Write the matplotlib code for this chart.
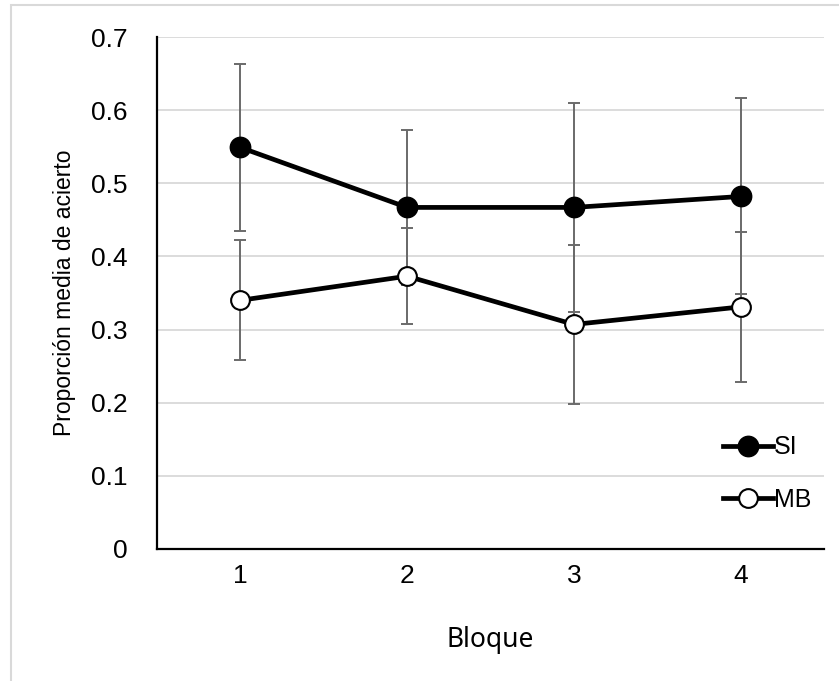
import matplotlib
matplotlib.use("Agg")
import matplotlib.pyplot as plt
from matplotlib.patches import Rectangle

bloques = ["1", "2", "3", "4"]
si_mean = [0.549, 0.467, 0.467, 0.482]
si_err = [0.114, 0.106, 0.143, 0.134]
mb_mean = [0.340, 0.373, 0.307, 0.331]
mb_err = [0.082, 0.066, 0.109, 0.103]
y_ticks = [0, 0.1, 0.2, 0.3, 0.4, 0.5, 0.6, 0.7]
y_tick_labels = ["0", "0.1", "0.2", "0.3", "0.4", "0.5", "0.6", "0.7"]

fig = plt.figure(figsize=(8.39, 6.81), dpi=100)
ax = fig.add_axes([157/839, 1 - 549/681, (824-157)/839, (549-37)/681])

x = list(range(1, len(bloques) + 1))
err_kw = dict(ecolor="#6a6a6a", elinewidth=1.4, capsize=4, capthick=1.4)
ax.errorbar(x, si_mean, yerr=si_err, fmt="none", zorder=2, **err_kw)
ax.errorbar(x, mb_mean, yerr=mb_err, fmt="none", zorder=2, **err_kw)
ax.plot(x, si_mean, color="black", lw=3.4, marker="o", ms=14.5, mfc="black",
        mec="black", mew=1.2, label="SI", zorder=3)
ax.plot(x, mb_mean, color="black", lw=3.4, marker="o", ms=13.5, mfc="white",
        mec="black", mew=1.5, label="MB", zorder=3)

ax.set_xlim(0.5, 4.5)
ax.set_ylim(0, 0.7)
ax.set_xticks(x)
ax.set_xticklabels(bloques, fontsize=19, family="Liberation Sans")
ax.set_yticks(y_ticks)
ax.set_yticklabels(y_tick_labels, fontsize=19, family="Liberation Sans")
ax.tick_params(axis="both", length=0)
ax.tick_params(axis="y", pad=21)
ax.tick_params(axis="x", pad=11)
ax.grid(axis="y", color="#d9d9d9", lw=1.3)
ax.set_axisbelow(True)
for s in ["top", "right"]:
    ax.spines[s].set_visible(False)
for s in ["left", "bottom"]:
    ax.spines[s].set_linewidth(1.6)
    ax.spines[s].set_color("black")

ax.set_ylabel("Proporción media de acierto", fontsize=16.5,
              family="Liberation Sans", labelpad=11)
ax.set_xlabel("Bloque", fontsize=19, family="Noto Sans", labelpad=27)

leg = ax.legend(loc="lower right", bbox_to_anchor=(1.015, 0.028), frameon=False,
                prop={"family": "Liberation Sans", "size": 18},
                handlelength=2.0, handletextpad=0.05, labelspacing=1.15)

fig.patches.append(Rectangle((11/839, -0.1), 1.2, (1 - 5/681) + 0.1,
                             transform=fig.transFigure, fill=False,
                             edgecolor="#d9d9d9", lw=1.5))

fig.savefig("out.png", dpi=100)
